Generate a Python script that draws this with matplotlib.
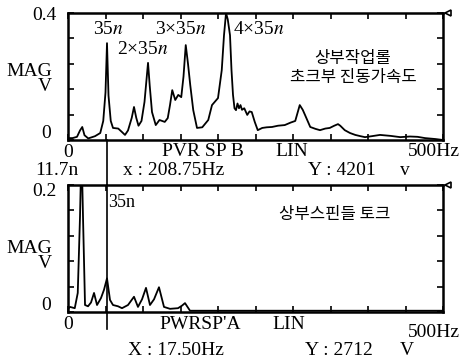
import numpy as np
import matplotlib
matplotlib.use('Agg')
from matplotlib import pyplot as plt

plt.rcParams['font.family'] = ['Liberation Serif', 'Noto Sans CJK KR']
plt.rcParams['mathtext.fontset'] = 'stix'

# upper spectrum: chock vibration acceleration (Hz, V)
hz_top = [0, 6, 12, 16, 19, 22, 27, 36, 43, 47, 50, 52, 54, 57, 60, 67, 72, 76, 80, 85,
          88, 91, 94, 98, 102, 106.7, 109, 112, 117, 122, 129, 133, 136, 139, 143, 147,
          151, 154, 157, 160, 163, 167, 172, 179, 187, 192, 200, 205, 208, 210.7, 213,
          216, 218, 220, 222, 224, 226, 228, 230, 232, 235, 239, 242, 245, 249, 253, 259,
          265, 272, 280, 289, 297, 303, 306, 309, 313, 316, 323, 330, 336, 343, 349, 355,
          360, 363, 369, 376, 383, 390, 396, 405, 416, 430, 443, 456, 466, 476, 490, 500]
mag_top = [0.006, 0.006, 0.01, 0.03, 0.041, 0.015, 0.005, 0.012, 0.022, 0.06, 0.15, 0.305,
           0.14, 0.06, 0.038, 0.036, 0.025, 0.016, 0.03, 0.07, 0.104, 0.07, 0.045, 0.06,
           0.12, 0.243, 0.17, 0.088, 0.047, 0.063, 0.057, 0.069, 0.11, 0.157, 0.126, 0.142,
           0.135, 0.2, 0.299, 0.24, 0.173, 0.094, 0.038, 0.04, 0.063, 0.11, 0.132, 0.22,
           0.33, 0.4, 0.38, 0.33, 0.22, 0.142, 0.1, 0.094, 0.115, 0.1, 0.11, 0.095, 0.1,
           0.079, 0.09, 0.088, 0.057, 0.031, 0.038, 0.04, 0.041, 0.045, 0.047, 0.055, 0.06,
           0.085, 0.11, 0.095, 0.079, 0.041, 0.035, 0.031, 0.036, 0.038, 0.045, 0.05, 0.045,
           0.031, 0.022, 0.016, 0.012, 0.009, 0.012, 0.016, 0.013, 0.009, 0.011, 0.01,
           0.006, 0.003, 0.0]

# lower spectrum: spindle torque (Hz, V)
hz_bot = [0, 2.7, 9, 13, 16, 18, 20, 22.7, 26.7, 30.7, 34.7, 38.7, 44, 48, 52, 56, 60,
          66.7, 72, 80, 88, 93.3, 98.7, 104, 109.3, 114.7, 121.3, 128, 136, 146.7, 152,
          156, 162.7, 176, 250, 350, 450, 500]
mag_bot = [0.005, 0.008, 0.006, 0.03, 0.15, 0.26, 0.15, 0.011, 0.009, 0.015, 0.03, 0.011,
           0.022, 0.035, 0.053, 0.019, 0.011, 0.009, 0.006, 0.011, 0.024, 0.008, 0.02,
           0.038, 0.011, 0.02, 0.039, 0.008, 0.005, 0.006, 0.01, 0.014, 0.002, 0.002,
           0.002, 0.002, 0.002, 0.002]

cursor_hz = 52
fs = 14

fig = plt.figure(figsize=(4.61, 3.62), dpi=100)
W, H = 461.0, 362.0
ax1 = fig.add_axes([68 / W, 1 - 140 / H, 375 / W, 127 / H])
ax2 = fig.add_axes([68 / W, 1 - 312 / H, 375 / W, 127 / H])

panels = [(ax1, hz_top, mag_top, 0.4, 0.48, 0.984), (ax2, hz_bot, mag_bot, 0.2, 0.44, 0.945)]
for ax, hz, mag, ymax, ylab, ytop in panels:
    ax.plot(hz, mag, color='black', lw=1.3)
    ax.set_xlim(0, 500)
    ax.set_ylim(0, ymax)
    ax.set_xticks(np.arange(0, 501, 50))
    ax.set_yticks(np.linspace(0, ymax, 6))
    ax.tick_params(direction='in', length=4, width=1.2, top=True, right=True,
                   labelbottom=False, labelleft=False)
    for s in ax.spines.values():
        s.set_linewidth(1.8)
    ax.plot(1.012, 1.0, marker='<', ms=5, mfc='white', mec='black', mew=1.2,
            transform=ax.transAxes, clip_on=False)
    ax.text(-0.045, 0.05, '0', transform=ax.transAxes, ha='right', va='center', fontsize=fs)
    ax.text(-0.03, ytop, '%g' % ymax, transform=ax.transAxes, ha='right', va='center', fontsize=fs)
    ax.text(-0.043, ylab, 'MAG\nV', transform=ax.transAxes, ha='right', va='center',
            fontsize=fs, linespacing=0.85, multialignment='right')
    ax.text(0.0, -0.1, '0', transform=ax.transAxes, ha='center', va='center', fontsize=fs)

# cursor line through both panels
ax1.axvline(cursor_hz, ymin=-0.36, ymax=0, color='black', lw=1.2, clip_on=False)
ax2.axvline(cursor_hz, ymin=-0.13, ymax=1, color='black', lw=1.2, clip_on=False)

# top panel annotations
ax1.text(0.067, 0.87, '35$n$', transform=ax1.transAxes, fontsize=fs, va='center')
ax1.text(0.13, 0.71, '2×35$n$', transform=ax1.transAxes, fontsize=fs, va='center')
ax1.text(0.232, 0.87, '3×35$n$', transform=ax1.transAxes, fontsize=fs, va='center')
ax1.text(0.44, 0.87, '4×35$n$', transform=ax1.transAxes, fontsize=fs, va='center')
ax1.text(0.76, 0.567, '상부작업롤\n초크부 진동가속도', transform=ax1.transAxes,
         family='Noto Sans CJK KR', fontsize=12, ha='center', va='center', linespacing=1.15)
ax1.text(0.25, -0.094, 'PVR SP B', transform=ax1.transAxes, fontsize=fs, va='center')
ax1.text(0.552, -0.094, 'LIN', transform=ax1.transAxes, fontsize=fs, va='center')
ax1.text(1.045, -0.094, '500Hz', transform=ax1.transAxes, fontsize=fs, va='center', ha='right')
ax1.text(-0.088, -0.24, '11.7n', transform=ax1.transAxes, fontsize=fs, va='center')
ax1.text(0.147, -0.24, 'x : 208.75Hz', transform=ax1.transAxes, fontsize=fs, va='center')
ax1.text(0.64, -0.24, 'Y : 4201', transform=ax1.transAxes, fontsize=fs, va='center')
ax1.text(0.885, -0.24, 'v', transform=ax1.transAxes, fontsize=fs, va='center')

# bottom panel annotations
ax2.text(0.107, 0.86, '35n', transform=ax2.transAxes, fontsize=fs - 1, va='center')
ax2.text(0.71, 0.764, '상부스핀들 토크', transform=ax2.transAxes,
         family='Noto Sans CJK KR', fontsize=12, ha='center', va='center')
ax2.text(0.245, -0.1, 'PWRSP\'A', transform=ax2.transAxes, fontsize=fs, va='center')
ax2.text(0.544, -0.1, 'LIN', transform=ax2.transAxes, fontsize=fs, va='center')
ax2.text(1.045, -0.165, '500Hz', transform=ax2.transAxes, fontsize=fs, va='center', ha='right')
ax2.text(0.16, -0.3, 'X : 17.50Hz', transform=ax2.transAxes, fontsize=fs, va='center')
ax2.text(0.632, -0.3, 'Y : 2712', transform=ax2.transAxes, fontsize=fs, va='center')
ax2.text(0.885, -0.3, 'V', transform=ax2.transAxes, fontsize=fs, va='center')

fig.savefig('out.png', dpi=100)
